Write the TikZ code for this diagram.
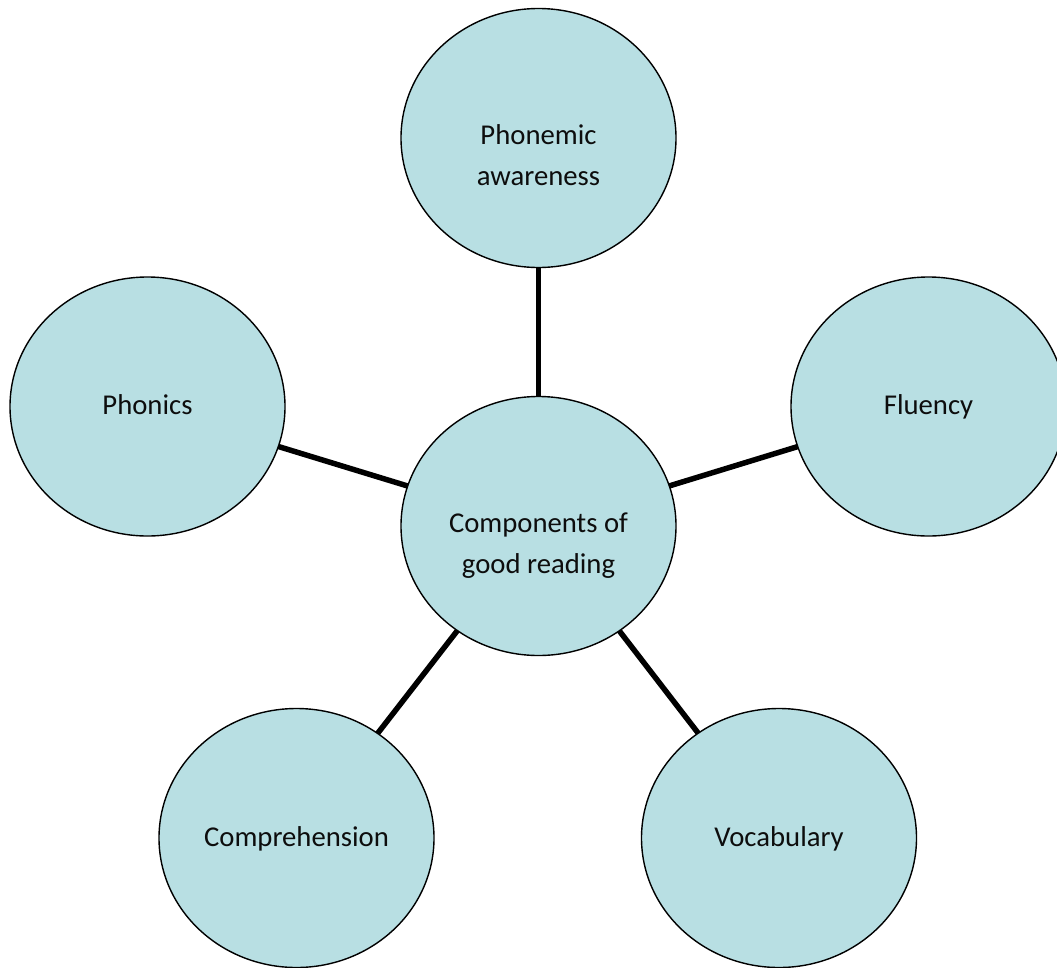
\documentclass[tikz,border=0pt]{standalone}
\usepackage{fontspec}
\setmainfont{Carlito}
\usetikzlibrary{shapes.geometric,backgrounds}
\definecolor{bubblefill}{HTML}{B8DFE3}
\begin{document}
\begin{tikzpicture}[x=1pt,y=-1pt,
  bubble/.style={ellipse, draw=black, line width=1.4pt, fill=bubblefill,
    minimum width=275pt, minimum height=259pt, inner sep=0pt},
  conn/.style={line width=5.5pt, draw=black},
  txt/.style={font=\fontsize{28.7}{41}\selectfont, align=center, inner sep=0pt, anchor=base, text=black!95}]
\useasboundingbox (0,0) rectangle (1057,967);
\clip (0,0) rectangle (1057,967);
\node[bubble] (c) at (538.5,526) {};
\node[bubble] (pa) at (538.5,138) {};
\node[bubble] (ph) at (147.5,406.5) {};
\node[bubble] (fl) at (928.5,406.5) {};
\node[bubble] (co) at (296.5,838) {};
\node[bubble] (vo) at (779,838) {};
\begin{scope}[on background layer]
  \draw[conn] (c.center) -- (pa.center);
  \draw[conn] (c.center) -- (ph.center);
  \draw[conn] (c.center) -- (fl.center);
  \draw[conn] (c.center) -- (co.center);
  \draw[conn] (c.center) -- (vo.center);
\end{scope}
\node[txt] (ct) at (538.5,573.5) {Components of\\good reading};
\node[txt] (pat) at (538.5,185.5) {Phonemic\\awareness};
\node[txt] (pht) at (147.5,414) {Phonics};
\node[txt] (flt) at (928.5,414) {Fluency};
\node[txt] (cot) at (296.5,846) {Comprehension};
\node[txt] (vot) at (779,846) {Vocabulary};
\end{tikzpicture}
\end{document}
